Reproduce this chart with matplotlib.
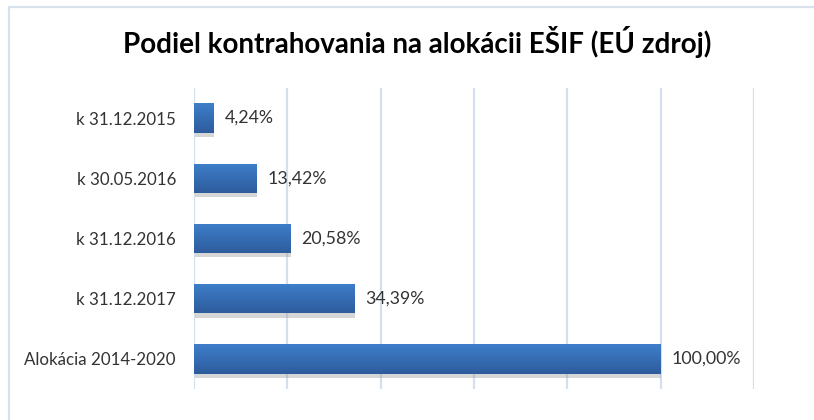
# Podiel kontrahovania na alokácii EŠIF - horizontal bar chart

import numpy as np
import matplotlib
matplotlib.use("Agg")
import matplotlib.pyplot as plt
import matplotlib.patheffects as pe
from matplotlib.colors import LinearSegmentedColormap
from matplotlib.patches import Rectangle


# ------------------------------------------------------------
# Data
# ------------------------------------------------------------
CATEGORIES = ["k 31.12.2015", "k 30.05.2016", "k 31.12.2016", "k 31.12.2017", "Alokácia 2014-2020"]
VALUES = [4.24, 13.42, 20.58, 34.39, 100.00]
X_TICKS = [0, 20, 40, 60, 80, 100, 120]
TITLE = "Podiel kontrahovania na alokácii EŠIF (EÚ zdroj)"

GRID_COLOR = "#d5e0ef"
TEXT_COLOR = "#333333"
BAR_TOP = "#3f7ecb"
BAR_BOTTOM = "#2d5c9c"


def main():
    plt.rcParams["font.family"] = ["Lato", "DejaVu Sans"]

    fig = plt.figure(figsize=(8.14, 4.2), dpi=100)
    W, H = 814, 420

    # light chart-area frame
    frame = Rectangle((9 / W, -0.1), 1.0, 1 - 7 / H + 0.1, transform=fig.transFigure,
                      fill=False, edgecolor="#d9e1ec", linewidth=1.6)
    fig.patches.append(frame)

    ax = fig.add_axes([194 / W, 1 - 389 / H, (754 - 194) / W, (389 - 88) / H])

    y = np.arange(len(CATEGORIES))
    bars = ax.barh(y, VALUES, height=0.49, color=BAR_BOTTOM, zorder=3,
                   path_effects=[pe.SimplePatchShadow(offset=(0.5, -3), shadow_rgbFace="#999999", alpha=0.4),
                                 pe.Normal()])

    # vertical gradient on each bar
    cmap = LinearSegmentedColormap.from_list("bar", [BAR_TOP, BAR_BOTTOM])
    grad = np.linspace(0, 1, 64).reshape(-1, 1)
    for b in bars:
        x0, y0 = b.get_x(), b.get_y()
        im = ax.imshow(grad, cmap=cmap, aspect="auto", zorder=4,
                       extent=(x0, x0 + b.get_width(), y0 + b.get_height(), y0))
        im.set_clip_path(b)

    for yi, v in zip(y, VALUES):
        ax.annotate(f"{v:.2f}%".replace(".", ","), (v, yi), xytext=(11, 0),
                    textcoords="offset pixels",
                    va="center", ha="left", fontsize=12.8, color=TEXT_COLOR)

    ax.set_xlim(0, 120)
    ax.set_ylim(len(CATEGORIES) - 0.5, -0.5)
    ax.set_xticks(X_TICKS)
    ax.set_xticklabels([])
    ax.tick_params(axis="x", length=0)
    ax.set_yticks(y)
    ax.set_yticklabels(CATEGORIES, fontsize=12.2, color=TEXT_COLOR)
    ax.tick_params(axis="y", length=0, pad=13)
    ax.grid(axis="x", color=GRID_COLOR, linewidth=1.6, zorder=0)
    ax.set_axisbelow(True)
    for s in ax.spines.values():
        s.set_visible(False)

    fig.text(417 / W, 1 - 42 / H, TITLE, ha="center", va="center",
             fontsize=20, fontweight="bold", color="black")

    fig.savefig("out.png", dpi=100)


if __name__ == "__main__":
    main()
